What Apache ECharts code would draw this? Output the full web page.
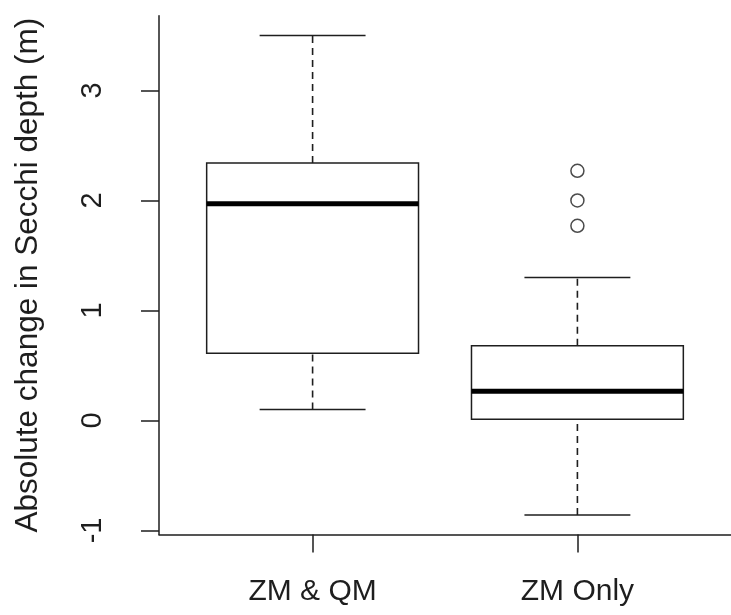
<!DOCTYPE html>
<html>
<head>
<meta charset="utf-8">
<script src="https://cdn.jsdelivr.net/npm/echarts@6/dist/echarts.min.js"></script>
<style>
  html, body { margin: 0; padding: 0; background: #fff; }
  #chart { width: 731px; height: 615px; }
</style>
</head>
<body>
<div id="chart"></div>
<script>
// Groups shown on the x axis
const categories = ['ZM & QM', 'ZM Only'];
// Five-number summaries per group: lower whisker, Q1, median, Q3, upper whisker
const lowerWhisker = [0.10, -0.86];
const lowerQuartile = [0.61, 0.01];
const medians = [1.97, 0.265];
const upperQuartile = [2.34, 0.68];
const upperWhisker = [3.50, 1.30];
// Points beyond the whiskers: [group index, value]
const outlierGroup = [1, 1, 1];
const outlierValues = [2.27, 2.00, 1.77];
// Y axis tick values
const yTicks = [-1, 0, 1, 2, 3];

const INK = '#1e1e1e';
const FONT = "'Liberation Sans', Arial, sans-serif";
const BOX_HALF = 0.4;   // half box width, in x-axis units
const CAP_HALF = 0.2;   // half whisker-cap width
const LW = 1.5;

const boxData = categories.map((c, i) => [
  i + 1, lowerWhisker[i], lowerQuartile[i], medians[i], upperQuartile[i], upperWhisker[i]
]);
const outlierData = outlierValues.map((v, k) => [outlierGroup[k] + 1, v]);

function renderBox(params, api) {
  const x = api.value(0);
  const lo = api.value(1), q1 = api.value(2), med = api.value(3), q3 = api.value(4), hi = api.value(5);
  const pt = (dx, v) => api.coord([x + dx, v]);
  const boxTL = pt(-BOX_HALF, q3), boxBR = pt(BOX_HALF, q1);
  const line = (a, b, extra) => ({
    type: 'line',
    shape: { x1: a[0], y1: a[1], x2: b[0], y2: b[1] },
    style: Object.assign({ stroke: INK, lineWidth: LW, fill: null }, extra || {})
  });
  const dash = { lineDash: [7, 5], lineWidth: 1.6 };
  return {
    type: 'group',
    children: [
      line(pt(0, q3), pt(0, hi), dash),
      line(pt(0, lo), pt(0, q1), dash),
      line(pt(-CAP_HALF, hi), pt(CAP_HALF, hi)),
      line(pt(-CAP_HALF, lo), pt(CAP_HALF, lo)),
      {
        type: 'rect',
        shape: { x: boxTL[0], y: boxTL[1], width: boxBR[0] - boxTL[0], height: boxBR[1] - boxTL[1] },
        style: { fill: '#fff', stroke: INK, lineWidth: LW }
      },
      line(pt(-BOX_HALF, med), pt(BOX_HALF, med), { lineWidth: 5, stroke: '#000' })
    ]
  };
}

const chart = echarts.init(document.getElementById('chart'), null, { renderer: 'canvas' });
chart.setOption({
  animation: false,
  backgroundColor: '#fff',
  grid: { left: 159, top: 15.7, width: 574.6, height: 518.8 },
  xAxis: {
    type: 'value',
    min: 0.42,
    max: 2.58,
    splitLine: { show: false },
    axisLine: { show: true, onZero: false, lineStyle: { color: INK, width: LW } },
    axisTick: { show: true, length: 18, customValues: [1, 2], lineStyle: { color: INK, width: LW } },
    axisLabel: {
      customValues: [1, 2],
      formatter: v => categories[Math.round(v) - 1] || '',
      margin: 42,
      fontSize: 30,
      fontFamily: FONT,
      color: INK
    }
  },
  yAxis: {
    type: 'value',
    min: -1.0367,
    max: 3.6797,
    name: 'Absolute change in Secchi depth (m)',
    nameLocation: 'middle',
    nameRotate: 90,
    nameGap: 115,
    nameTextStyle: { fontSize: 31.5, fontFamily: FONT, color: INK },
    splitLine: { show: false },
    axisLine: { show: true, onZero: false, lineStyle: { color: INK, width: LW } },
    axisTick: { show: true, length: 18, customValues: yTicks, lineStyle: { color: INK, width: LW } },
    axisLabel: {
      customValues: yTicks,
      rotate: 90,
      margin: 52,
      fontSize: 29,
      fontFamily: FONT,
      color: INK
    }
  },
  series: [
    {
      type: 'custom',
      renderItem: renderBox,
      data: boxData,
      encode: { x: 0, y: [1, 2, 3, 4, 5] },
      clip: false,
      z: 2
    },
    {
      type: 'scatter',
      data: outlierData,
      symbol: 'circle',
      symbolSize: 13,
      itemStyle: { color: '#fff', borderColor: INK, borderWidth: LW },
      z: 3
    }
  ]
});
</script>
</body>
</html>
